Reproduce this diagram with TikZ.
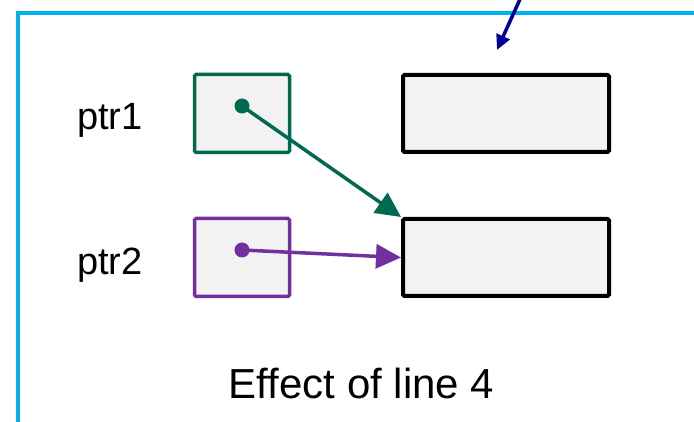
\documentclass[tikz,border=0pt]{standalone}
\usepackage{fontspec}
\setmainfont{Liberation Sans}
\usetikzlibrary{arrows.meta}
\definecolor{frameblue}{HTML}{00B0F0}
\definecolor{darkarrow}{HTML}{000099}
\definecolor{ptrgreen}{HTML}{006A50}
\definecolor{ptrpurple}{HTML}{7030A0}
\definecolor{boxfill}{HTML}{F2F2F2}
\tikzset{
  ptrbox/.style={draw, fill=boxfill, line width=3.5pt, minimum width=95pt, minimum height=78pt, rounded corners=1.5pt, inner sep=0pt},
  membox/.style={draw=black, fill=boxfill, line width=4pt, minimum width=206pt, minimum height=77pt, rounded corners=1.5pt, inner sep=0pt},
  dot/.style={circle, inner sep=0pt, minimum size=15pt},
  lbl/.style={inner sep=0pt, font=\fontsize{38pt}{40pt}\selectfont},
  ptrarrow/.style={line width=3.5pt, -{Triangle[length=25pt,width=24pt]}}
}
\begin{document}
\begin{tikzpicture}[x=1pt,y=-1pt]
\useasboundingbox (0,0) rectangle (694,422);
% frame
\draw[frameblue, line width=3.5pt] (694,13) -- (18,13) -- (18,424);
% incoming arrow
\coordinate (ain) at (521,-3);
\coordinate (aout) at (497,50);
\draw[darkarrow, line width=3.5pt, -{Triangle[length=15pt,width=14pt]}] (ain) -- (aout);
% labels
\node[lbl, anchor=base west] (l1) at (77,130) {ptr1};
\node[lbl, anchor=base west] (l2) at (77,275) {ptr2};
% pointer boxes
\node[ptrbox, draw=ptrgreen] (p1) at (242,113.5) {};
\node[ptrbox, draw=ptrpurple] (p2) at (242,257.5) {};
% memory boxes
\node[membox] (m1) at (506,113.5) {};
\node[membox] (m2) at (506,257.5) {};
% dots
\node[dot, fill=ptrgreen] (d1) at (242,106) {};
\node[dot, fill=ptrpurple] (d2) at (242,250) {};
% arrows
\draw[ptrarrow, ptrgreen] (d1.center) -- (m2.north west);
\draw[ptrarrow, ptrpurple] (d2.center) -- (m2.west);
% caption
\node[inner sep=0pt, anchor=base, font=\fontsize{42pt}{44pt}\selectfont] (cap) at (361.5,398) {Effect of line 4};
\end{tikzpicture}
\end{document}
